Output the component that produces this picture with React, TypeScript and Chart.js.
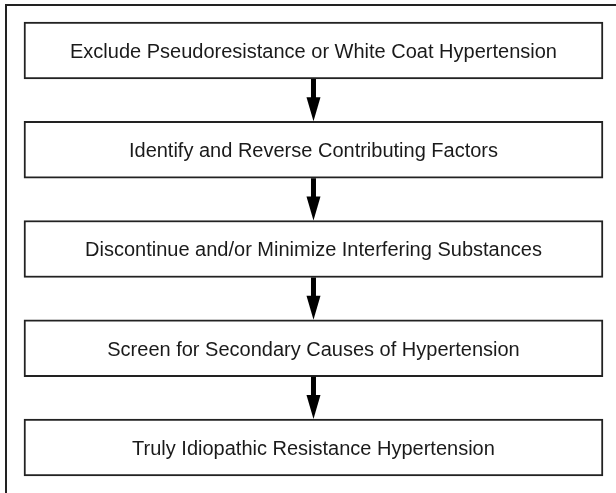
import React, { useEffect, useRef } from "react";
import { Chart, registerables } from "chart.js";

Chart.register(...registerables);

// Flowchart steps (top to bottom)
const steps = [
  "Exclude Pseudoresistance or White Coat Hypertension",
  "Identify and Reverse Contributing Factors",
  "Discontinue and/or Minimize Interfering Substances",
  "Screen for Secondary Causes of Hypertension",
  "Truly Idiopathic Resistance Hypertension",
];
const stepPositions = [0, 1, 2, 3, 4];
const boxStart = [0, 0, 0, 0, 0];
const boxEnd = [100, 100, 100, 100, 100];

const flowPlugin = {
  id: "flowDecor",
  beforeDraw(chart: any) {
    const { ctx, canvas, chartArea } = chart;
    ctx.save();
    ctx.fillStyle = "#ffffff";
    ctx.fillRect(0, 0, canvas.width, canvas.height);
    ctx.strokeStyle = "#222222";
    ctx.lineWidth = 2;
    ctx.beginPath();
    ctx.moveTo(chartArea.left + 1, chartArea.bottom);
    ctx.lineTo(chartArea.left + 1, chartArea.top + 1);
    ctx.lineTo(chartArea.right, chartArea.top + 1);
    ctx.stroke();
    ctx.restore();
  },
  afterDatasetsDraw(chart: any) {
    const { ctx } = chart;
    const meta = chart.getDatasetMeta(0);
    const els = meta.data.map((el: any) =>
      el.getProps(["x", "y", "base", "height"], true)
    );
    ctx.save();
    // arrows
    ctx.fillStyle = "#000000";
    for (let i = 0; i < els.length - 1; i++) {
      const a = els[i];
      const b = els[i + 1];
      const cx = (a.x + a.base) / 2;
      const y1 = a.y + a.height / 2;
      const y2 = b.y - b.height / 2;
      const headLen = 24;
      const shaftW = 5;
      const headHalf = 7;
      ctx.fillRect(cx - shaftW / 2, y1, shaftW, y2 - headLen - y1 + 1);
      ctx.beginPath();
      ctx.moveTo(cx - headHalf, y2 - headLen);
      ctx.lineTo(cx + headHalf, y2 - headLen);
      ctx.lineTo(cx, y2);
      ctx.closePath();
      ctx.fill();
    }
    // labels
    ctx.fillStyle = "#1a1a1a";
    ctx.font = '20px "Liberation Sans", Arial, sans-serif';
    ctx.textAlign = "center";
    ctx.textBaseline = "alphabetic";
    els.forEach((e: any, i: number) => {
      const cx = (e.x + e.base) / 2;
      ctx.fillText(steps[i], cx, e.y + 7.5);
    });
    ctx.restore();
  },
};

export default function App() {
  const ref = useRef<HTMLCanvasElement | null>(null);
  useEffect(() => {
    if (!ref.current) return;
    const chart = new Chart(ref.current, {
      type: "bar",
      data: {
        datasets: [
          {
            data: stepPositions.map((p, i) => ({
              y: p,
              x: [boxStart[i], boxEnd[i]],
            })) as any,
            backgroundColor: "#ffffff",
            borderColor: "#222222",
            borderWidth: 2,
            borderSkipped: false,
            barThickness: 57,
          },
        ],
      },
      options: {
        indexAxis: "y",
        animation: false,
        responsive: false,
        events: [],
        layout: { padding: { left: 5, top: 4, right: 0, bottom: 0 } },
        plugins: { legend: { display: false }, tooltip: { enabled: false } },
        scales: {
          x: { type: "linear", display: false, offset: false, min: -3.28, max: 102.25 },
          y: { type: "linear", display: false, offset: false, reverse: true, min: -0.4685, max: 4.4585 },
        },
      },
      plugins: [flowPlugin],
    });
    return () => chart.destroy();
  }, []);
  return (
    <div style={{ position: "fixed", left: 0, top: 0, width: 616, height: 493, background: "#fff" }}>
      <canvas ref={ref} width={616} height={493} style={{ display: "block" }} />
    </div>
  );
}
